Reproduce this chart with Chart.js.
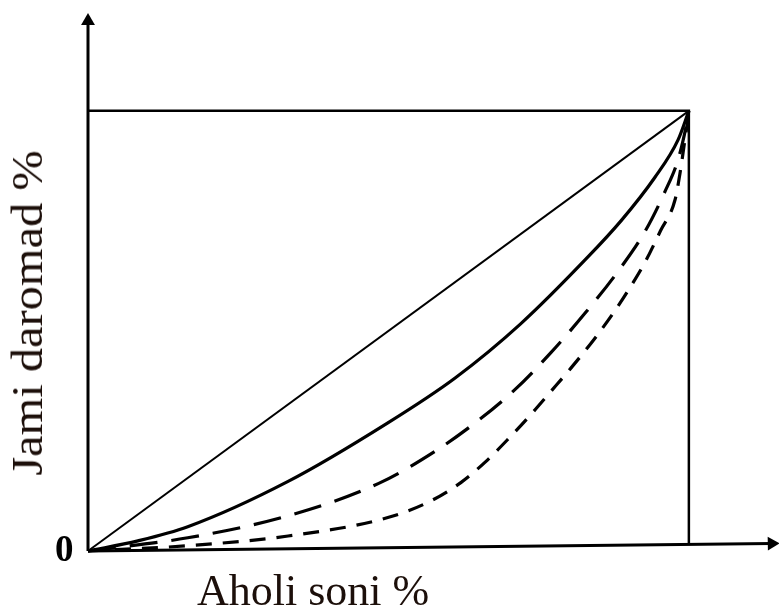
<!DOCTYPE html>
<html>
<head>
<meta charset="utf-8">
<script src="https://cdn.jsdelivr.net/npm/chart.js@4.4.0/dist/chart.umd.min.js"></script>
<style>
  html, body { margin: 0; padding: 0; background: #fff; }
  #wrap { position: relative; width: 779px; height: 608px; }
  .lbl { position: absolute; font-family: "Liberation Serif", "Times New Roman", serif; color: #1c0f0a; white-space: nowrap; line-height: 1; }
  #ytitle { left: 28px; top: 313px; font-size: 44px; transform: translate(-50%, -50%) rotate(-90deg) scaleX(1.1); }
  #xtitle { left: 197px; top: 569px; font-size: 44px; }
  #zero { left: 55px; top: 530px; font-size: 37px; font-weight: bold; color: #000; }
</style>
</head>
<body>
<div id="wrap">
  <canvas id="chart" width="779" height="608"></canvas>
  <div class="lbl" id="ytitle">Jami daromad %</div>
  <div class="lbl" id="xtitle">Aholi soni %</div>
  <div class="lbl" id="zero">0</div>
</div>
<script>
// population share (x) and income share (y), percent
const diagonalX = [0, 100];
const diagonalY = [0, 100];

const solidX = [0, 8.3, 16.6, 33.3, 49.9, 61.1, 72.0, 83.2, 88.7, 94.3, 98.2, 100];
const solidY = [0, 2.3, 5.5, 15.8, 29.1, 39.3, 51.6, 66.8, 75.0, 84.8, 93.4, 100];

const longDashX = [0, 16.6, 33.3, 48.3, 57.7, 64.9, 71.0, 77.0, 82.7, 88.2, 92.7, 96.0, 98.2, 99.5, 100];
const longDashY = [0, 3.0, 8.0, 15.3, 22.6, 29.6, 36.6, 45.0, 54.0, 63.5, 72.6, 81.6, 88.9, 96.2, 100];

const shortDashX = [0, 16.6, 33.3, 49.9, 57.1, 62.1, 66.1, 69.9, 73.7, 77.0, 80.4, 84.4, 87.7, 89.9, 92.7, 95.3, 97.7, 98.5, 99.3, 100];
const shortDashY = [0, 1.2, 3.4, 7.6, 11.4, 15.6, 20.2, 25.4, 31.0, 36.2, 41.6, 48.4, 54.6, 59.2, 65.6, 72.8, 79.8, 85.6, 93.0, 99.5];

// frame: top line from the y axis and the right side down to the x axis
const frameX = [0, 100, 100];
const frameY = [100, 100, 1.6];

// axes with arrow heads at the end points
const yAxisX = [0, 0];
const yAxisY = [0, 120.4];
const xAxisX = [0, 113.8];
const xAxisY = [0, 1.7];

const zip = (xs, ys) => xs.map((x, i) => ({ x, y: ys[i] }));

const base = { showLine: true, pointRadius: 0, borderColor: '#000', fill: false, clip: false };

new Chart(document.getElementById('chart'), {
  type: 'scatter',
  data: {
    datasets: [
      { ...base, data: zip(frameX, frameY), borderWidth: 2.5 },
      { ...base, data: zip(diagonalX, diagonalY), borderWidth: 2 },
      { ...base, data: zip(solidX, solidY), borderWidth: 3.2, cubicInterpolationMode: 'monotone' },
      { ...base, data: zip(longDashX, longDashY), borderWidth: 3.2, borderDash: [28, 14], cubicInterpolationMode: 'monotone' },
      { ...base, data: zip(shortDashX, shortDashY), borderWidth: 3.2, borderDash: [16, 11], cubicInterpolationMode: 'monotone' },
      { ...base, data: zip(yAxisX, yAxisY), borderWidth: 3, pointRadius: [0, 8], pointStyle: 'triangle', backgroundColor: '#000', pointBorderWidth: 0 },
      { ...base, data: zip(xAxisX, xAxisY), borderWidth: 3, pointRadius: [0, 8], pointStyle: 'triangle', pointRotation: 89, backgroundColor: '#000', pointBorderWidth: 0 }
    ]
  },
  options: {
    responsive: false,
    animation: false,
    layout: { autoPadding: false, padding: { left: 88, right: 0, top: 14, bottom: 57 } },
    plugins: { legend: { display: false }, tooltip: { enabled: false } },
    scales: {
      x: { type: 'linear', min: 0, max: 115, display: false },
      y: { type: 'linear', min: 0, max: 122, display: false }
    }
  }
});
</script>
</body>
</html>
